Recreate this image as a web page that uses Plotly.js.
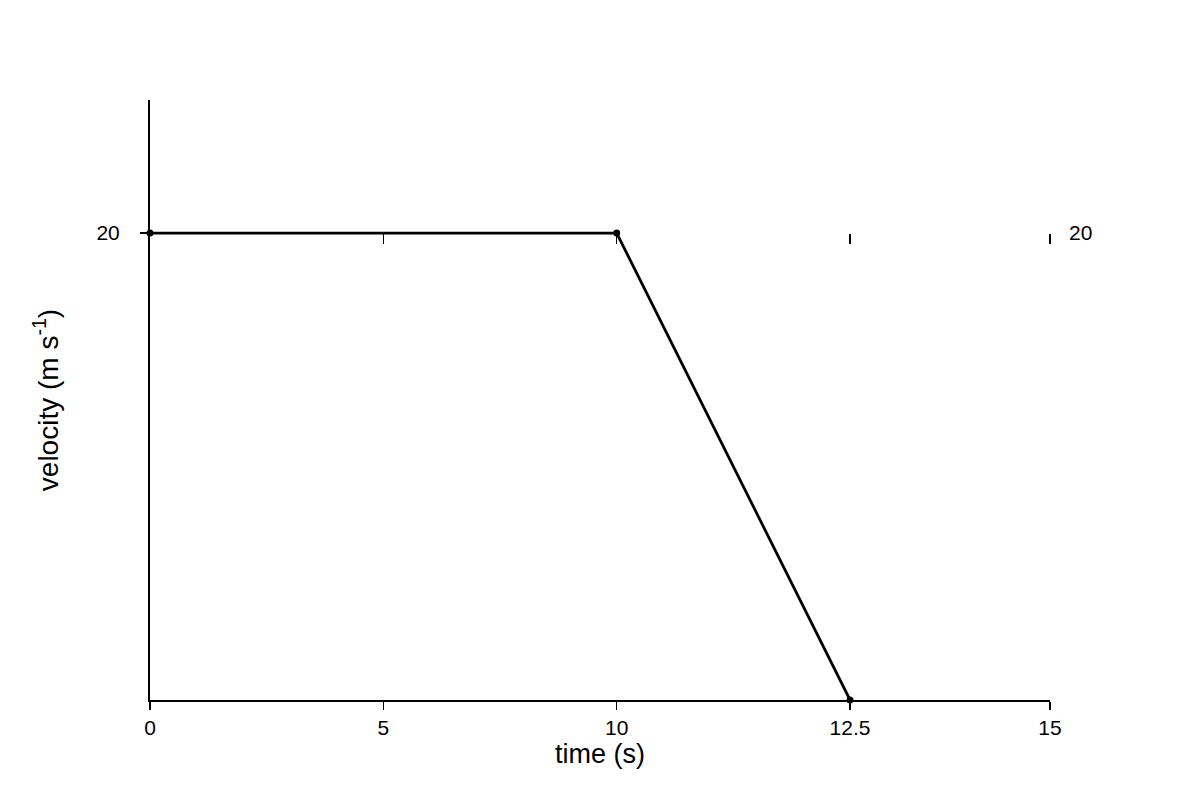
<!DOCTYPE html>
<html>
<head>
<meta charset="utf-8">
<script src="https://cdn.plot.ly/plotly-3.0.1.min.js"></script>
<style>
  html, body { margin: 0; padding: 0; background: #fff; }
  #chart { width: 1200px; height: 800px; }
</style>
</head>
<body>
<div id="chart"></div>
<script>
// velocity-time data
const time = [0, 10, 12.5];
const velocity = [20, 20, 0];

// x axis is not linear in the reference: the ticks are evenly spaced
// up to 12.5, then the last gap to 15 is a bit shorter
const xTickLabels = [0, 5, 10, 12.5, 15];
const xTickSlots = [0, 1, 2, 3, 3.857];
const guideTicks = [5, 10, 12.5, 15];
const yTicks = [20];

const font = 'Liberation Sans, Arial, sans-serif';

// piecewise map from time value to axis slot
function slot(t) {
    for (let i = 0; i < xTickLabels.length - 1; i++) {
        const a = xTickLabels[i], b = xTickLabels[i + 1];
        if (t >= a && t <= b) {
            return xTickSlots[i] + (t - a) / (b - a) * (xTickSlots[i + 1] - xTickSlots[i]);
        }
    }
    return null;
}

const xEnd = slot(15);
const yTop = 25.7;

const trace = {
    x: time.map(slot),
    y: velocity,
    type: 'scatter',
    mode: 'lines+markers',
    line: { color: '#000', width: 2.8 },
    marker: { color: '#000', size: 7 },
    showlegend: false,
    hoverinfo: 'skip',
    cliponaxis: false
};

// empty trace so the secondary axes get drawn
const ghost = {
    x: [null],
    y: [null],
    xaxis: 'x2',
    yaxis: 'y2',
    type: 'scatter',
    mode: 'markers',
    showlegend: false,
    hoverinfo: 'skip'
};

const layout = {
    width: 1200,
    height: 800,
    margin: { l: 150, r: 150, t: 100, b: 100 },
    paper_bgcolor: '#fff',
    plot_bgcolor: '#fff',
    font: { family: font, color: '#000', size: 20 },
    xaxis: {
        range: [0, xEnd],
        tickvals: xTickLabels.map(slot),
        ticktext: xTickLabels.map(String),
        ticks: 'outside',
        ticklen: 8,
        tickwidth: 1.5,
        tickcolor: '#000',
        showline: true,
        linecolor: '#000',
        linewidth: 2,
        showgrid: false,
        zeroline: false,
        tickfont: { size: 21 },
        title: { text: 'time (s)', font: { size: 27 }, standoff: 0 }
    },
    yaxis: {
        range: [0, yTop],
        tickvals: yTicks,
        ticks: 'outside',
        ticklen: 8,
        tickwidth: 1.5,
        tickcolor: '#000',
        showline: true,
        linecolor: '#000',
        linewidth: 2,
        showgrid: false,
        zeroline: false,
        tickfont: { size: 21 },
        ticklabelstandoff: 16,
        title: { text: 'velocity (m s<sup>-1</sup>)', font: { size: 28 }, standoff: 30 }
    },
    // small guide ticks along v = 20
    xaxis2: {
        overlaying: 'x',
        anchor: 'free',
        side: 'bottom',
        position: 20 / yTop,
        range: [0, xEnd],
        tickvals: guideTicks.map(slot),
        ticks: 'outside',
        ticklen: 10,
        tickwidth: 1.5,
        tickcolor: '#000',
        showticklabels: false,
        showline: false,
        showgrid: false,
        zeroline: false
    },
    yaxis2: {
        overlaying: 'y',
        anchor: 'x2',
        side: 'right',
        range: [0, yTop],
        tickvals: yTicks,
        ticks: '',
        showline: false,
        showgrid: false,
        zeroline: false,
        tickfont: { size: 21 },
        ticklabelstandoff: 18
    }
};

Plotly.newPlot('chart', [trace, ghost], layout, { displayModeBar: false, staticPlot: true });
</script>
</body>
</html>
